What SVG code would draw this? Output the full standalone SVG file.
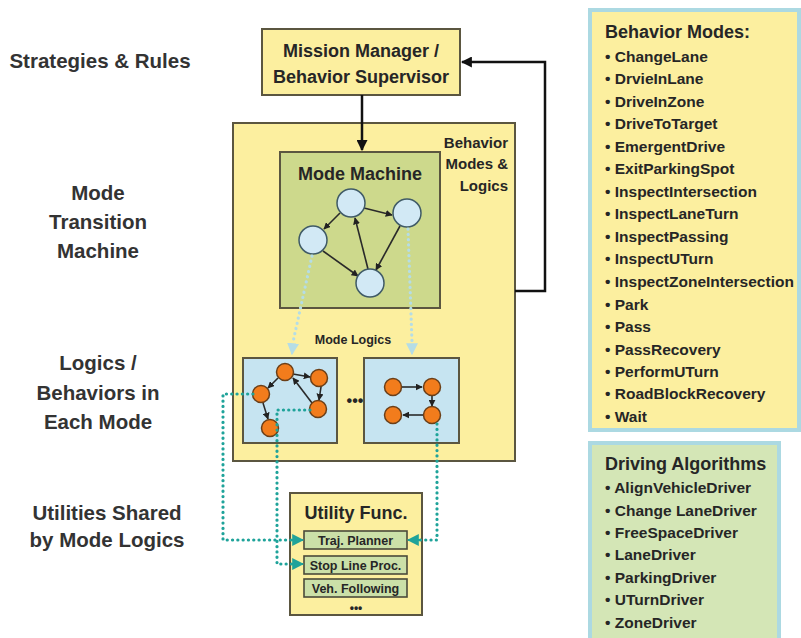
<svg xmlns="http://www.w3.org/2000/svg" width="801" height="638" viewBox="0 0 801 638">
<defs>
<style>
text{font-family:"Liberation Sans",Arial,sans-serif;font-weight:bold;fill:#262626}
.lbl{font-size:20.5px;text-anchor:middle;fill:#333}
.box{stroke:#5b5640;stroke-width:2}
.yel{fill:#fcef9f}
.mc{fill:#d2e9f5;stroke:#3f5a66;stroke-width:1.5}
.oc{fill:#f27c1c;stroke:#6b3f18;stroke-width:1.5}
.ar{stroke:#2a2a2a;stroke-width:1.6;fill:none;marker-end:url(#ah)}
.dot{stroke:#1fa39a;stroke-width:3.2;fill:none;stroke-dasharray:0.1 5.2;stroke-linecap:round}
.ldot{stroke:#b5dde6;stroke-width:3.2;fill:none;stroke-dasharray:0.1 5.2;stroke-linecap:round}
.li{font-size:15.5px}
.sub{fill:#cbe0a8;stroke:#4a4a3a;stroke-width:1.6}
</style>
<marker id="ah" viewBox="0 0 10 10" refX="9" refY="5" markerWidth="7" markerHeight="7" orient="auto" markerUnits="userSpaceOnUse"><path d="M0,0 L10,5 L0,10 z" fill="#222"/></marker>
<marker id="bh" viewBox="0 0 10 10" refX="9" refY="5" markerWidth="11" markerHeight="11" orient="auto" markerUnits="userSpaceOnUse"><path d="M0,0 L10,5 L0,10 z" fill="#111"/></marker>
<marker id="th" viewBox="0 0 10 10" refX="9" refY="5" markerWidth="12" markerHeight="12" orient="auto" markerUnits="userSpaceOnUse"><path d="M0,0 L10,5 L0,10 z" fill="#1fa39a"/></marker>
<marker id="lh" viewBox="0 0 10 10" refX="9" refY="5" markerWidth="12" markerHeight="12" orient="auto" markerUnits="userSpaceOnUse"><path d="M0,0 L10,5 L0,10 z" fill="#b5dde6"/></marker>
</defs>
<rect width="801" height="638" fill="#fff"/>

<g id="side-labels">
<text class="lbl" x="100" y="68">Strategies &amp; Rules</text>
<text class="lbl" x="98" y="200">Mode</text>
<text class="lbl" x="98" y="229">Transition</text>
<text class="lbl" x="98" y="258">Machine</text>
<text class="lbl" x="98" y="370">Logics /</text>
<text class="lbl" x="98" y="400">Behaviors in</text>
<text class="lbl" x="98" y="429">Each Mode</text>
<text class="lbl" x="107" y="520">Utilities Shared</text>
<text class="lbl" x="107" y="547">by Mode Logics</text>
</g>

<g id="mission-manager">
<rect class="box yel" x="262" y="29" width="198" height="66"/>
<text x="361" y="57" font-size="18" text-anchor="middle">Mission Manager /</text>
<text x="361" y="83" font-size="18" text-anchor="middle">Behavior Supervisor</text>
</g>

<g id="behavior-modes-logics">
<rect class="box yel" x="233" y="123" width="282" height="338"/>
<text x="508" y="148" font-size="15" text-anchor="end">Behavior</text>
<text x="508" y="169" font-size="15" text-anchor="end">Modes &amp;</text>
<text x="508" y="191" font-size="15" text-anchor="end">Logics</text>
<text x="353" y="344" font-size="12.5" text-anchor="middle">Mode Logics</text>
<text x="355" y="406" font-size="16" text-anchor="middle">•••</text>
</g>

<g id="mode-machine">
<rect class="box" fill="#cdd98c" x="280" y="152" width="160" height="156"/>
<text x="360" y="180" font-size="18" text-anchor="middle">Mode Machine</text>
<path class="ar" d="M364,208 L392,215"/>
<path class="ar" d="M340,213 L324,229"/>
<path class="ar" d="M323,251 L358,276"/>
<path class="ar" d="M400,226 L376,270"/>
<path class="ar" d="M368,269 L355,218"/>
<circle class="mc" cx="351" cy="203" r="14"/>
<circle class="mc" cx="407" cy="213" r="14"/>
<circle class="mc" cx="313" cy="240" r="14"/>
<circle class="mc" cx="370" cy="283" r="14"/>
</g>

<g id="logic-box-1">
<rect class="box" fill="#c6e4f1" x="243" y="358" width="94" height="85"/>
<path class="ar" d="M293,374 L310,377"/>
<path class="ar" d="M321,387 L319,400"/>
<path class="ar" d="M312,403 L293,378"/>
<path class="ar" d="M278,378 L268,388"/>
<path class="ar" d="M263,403 L268,419"/>
<circle class="oc" cx="285" cy="372" r="8.5"/>
<circle class="oc" cx="319" cy="378" r="8.5"/>
<circle class="oc" cx="261" cy="394" r="8.5"/>
<circle class="oc" cx="318" cy="409" r="8.5"/>
<circle class="oc" cx="270" cy="428" r="8.5"/>
</g>

<g id="logic-box-2">
<rect class="box" fill="#c6e4f1" x="364" y="358" width="95" height="85"/>
<path class="ar" d="M402,387 L422,387"/>
<path class="ar" d="M432,396 L432,406"/>
<path class="ar" d="M423,415 L403,415"/>
<circle class="oc" cx="393" cy="387" r="8.5"/>
<circle class="oc" cx="432" cy="387" r="8.5"/>
<circle class="oc" cx="393" cy="415" r="8.5"/>
<circle class="oc" cx="432" cy="415" r="8.5"/>
</g>

<g id="utility-func">
<rect class="box yel" x="290" y="493" width="132" height="122"/>
<text x="356" y="519" font-size="18" text-anchor="middle">Utility Func.</text>
<rect class="sub" x="304" y="531" width="103" height="18"/>
<text x="355.5" y="545" font-size="12.5" text-anchor="middle">Traj. Planner</text>
<rect class="sub" x="304" y="556" width="103" height="18"/>
<text x="355.5" y="570" font-size="12.5" text-anchor="middle">Stop Line Proc.</text>
<rect class="sub" x="304" y="579" width="103" height="18"/>
<text x="355.5" y="593" font-size="12.5" text-anchor="middle">Veh. Following</text>
<text x="356" y="612" font-size="12" text-anchor="middle">•••</text>
</g>

<g id="connectors">
<path d="M362,95 L362,150" stroke="#111" stroke-width="2.5" fill="none" marker-end="url(#bh)"/>
<path d="M515,291 L545,291 L545,62 L462,62" stroke="#111" stroke-width="2.5" fill="none" marker-end="url(#bh)"/>
<path class="ldot" d="M312,256 L293,342"/>
<path d="M293,344 L292,354" stroke="#b5dde6" stroke-width="2" marker-end="url(#lh)"/>
<path class="ldot" d="M408,229 L412,342"/>
<path d="M412,344 L412,354" stroke="#b5dde6" stroke-width="2" marker-end="url(#lh)"/>
<path class="dot" d="M253,394 L223,394 L223,540 L292,540"/>
<path d="M290,540 L303,540" stroke="#1fa39a" stroke-width="2" marker-end="url(#th)"/>
<path class="dot" d="M310,410 L277,410 L277,564 L292,564"/>
<path d="M290,564 L303,564" stroke="#1fa39a" stroke-width="2" marker-end="url(#th)"/>
<path class="dot" d="M437,424 L437,540 L420,540"/>
<path d="M421,540 L408,540" stroke="#1fa39a" stroke-width="2" marker-end="url(#th)"/>
</g>

<g id="behavior-modes-list">
<rect x="590" y="10" width="209" height="420" fill="#fcef9f" stroke="#acd9e2" stroke-width="4"/>
<text x="605" y="38" font-size="18">Behavior Modes:</text>
<g class="li">
<text x="605" y="62">• ChangeLane</text>
<text x="605" y="84">• DrvieInLane</text>
<text x="605" y="107">• DriveInZone</text>
<text x="605" y="129">• DriveToTarget</text>
<text x="605" y="152">• EmergentDrive</text>
<text x="605" y="174">• ExitParkingSpot</text>
<text x="605" y="197">• InspectIntersection</text>
<text x="605" y="219">• InspectLaneTurn</text>
<text x="605" y="242">• InspectPassing</text>
<text x="605" y="264">• InspectUTurn</text>
<text x="605" y="287">• InspectZoneIntersection</text>
<text x="605" y="310">• Park</text>
<text x="605" y="332">• Pass</text>
<text x="605" y="355">• PassRecovery</text>
<text x="605" y="377">• PerformUTurn</text>
<text x="605" y="399">• RoadBlockRecovery</text>
<text x="605" y="422">• Wait</text>
</g>
</g>

<g id="driving-algorithms-list">
<rect x="590" y="443" width="189" height="200" fill="#d4e6b6" stroke="#acd9e2" stroke-width="4"/>
<text x="605" y="470" font-size="18">Driving Algorithms</text>
<g class="li">
<text x="605" y="493">• AlignVehicleDriver</text>
<text x="605" y="516">• Change LaneDriver</text>
<text x="605" y="538">• FreeSpaceDriver</text>
<text x="605" y="560">• LaneDriver</text>
<text x="605" y="583">• ParkingDriver</text>
<text x="605" y="605">• UTurnDriver</text>
<text x="605" y="628">• ZoneDriver</text>
</g>
</g>
</svg>
